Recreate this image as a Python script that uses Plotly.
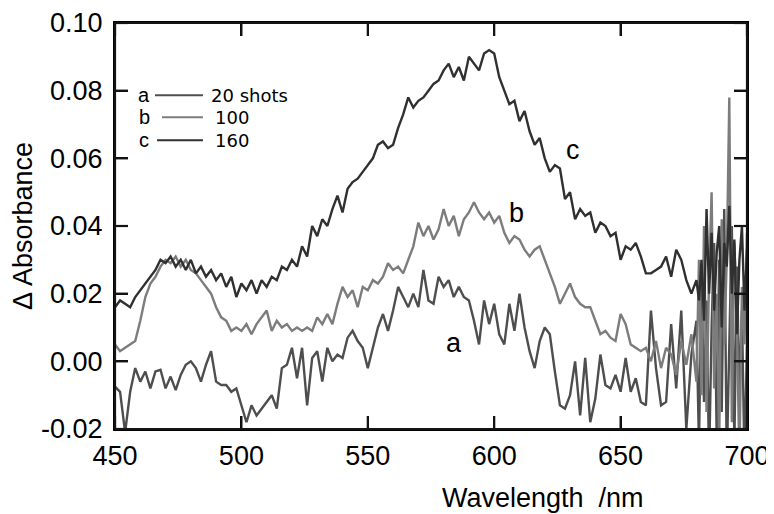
import plotly.graph_objects as go

# Wavelength grid (nm): 2 nm steps up to 678, then 1 nm steps in the noisy tail
wavelength = list(range(450, 680, 2)) + list(range(680, 701))

# Series c (160 shots)
abs_c = [0.016, 0.018, 0.017, 0.016, 0.019, 0.021, 0.023, 0.025, 0.027, 0.030,
         0.029, 0.031, 0.028, 0.030, 0.027, 0.030, 0.026, 0.028, 0.025, 0.027,
         0.024, 0.026, 0.022, 0.025, 0.019, 0.023, 0.021, 0.024, 0.020, 0.024,
         0.022, 0.025, 0.024, 0.028, 0.027, 0.030, 0.028, 0.034, 0.031, 0.040,
         0.037, 0.042, 0.040, 0.045, 0.049, 0.044, 0.051, 0.053, 0.054, 0.056,
         0.058, 0.060, 0.064, 0.065, 0.063, 0.064, 0.069, 0.073, 0.078, 0.075,
         0.077, 0.078, 0.080, 0.082, 0.083, 0.086, 0.088, 0.084, 0.087, 0.083,
         0.090, 0.088, 0.086, 0.091, 0.092, 0.091, 0.084, 0.080, 0.076, 0.077,
         0.071, 0.074, 0.068, 0.064, 0.066, 0.060, 0.056, 0.058, 0.057, 0.048,
         0.050, 0.042, 0.045, 0.043, 0.044, 0.038, 0.041, 0.040, 0.037, 0.038,
         0.030, 0.034, 0.033, 0.035, 0.031, 0.026, 0.026, 0.027, 0.028, 0.031,
         0.025, 0.033, 0.030, 0.024, 0.020,
         0.024, 0.018, 0.030, 0.012, 0.045, 0.020, 0.038, 0.015, 0.032, 0.040,
         0.010, 0.035, 0.028, 0.046, 0.020, 0.036, 0.008, 0.030, 0.040, 0.015,
         0.033]

# Series b (100 shots)
abs_b = [0.005, 0.003, 0.004, 0.005, 0.006, 0.012, 0.019, 0.023, 0.025, 0.028,
         0.030, 0.029, 0.031, 0.028, 0.030, 0.027, 0.026, 0.024, 0.022, 0.020,
         0.016, 0.013, 0.012, 0.009, 0.010, 0.009, 0.011, 0.008, 0.011, 0.013,
         0.015, 0.009, 0.012, 0.010, 0.011, 0.009, 0.010, 0.009, 0.010, 0.009,
         0.013, 0.011, 0.014, 0.011, 0.017, 0.022, 0.019, 0.021, 0.016, 0.022,
         0.021, 0.024, 0.023, 0.025, 0.029, 0.027, 0.028, 0.026, 0.030, 0.034,
         0.041, 0.037, 0.040, 0.036, 0.039, 0.045, 0.040, 0.043, 0.037, 0.042,
         0.044, 0.047, 0.044, 0.042, 0.044, 0.041, 0.043, 0.038, 0.035, 0.037,
         0.036, 0.033, 0.031, 0.033, 0.034, 0.030, 0.026, 0.022, 0.017, 0.020,
         0.023, 0.019, 0.017, 0.016, 0.016, 0.012, 0.008, 0.009, 0.007, 0.006,
         0.014, 0.011, 0.005, 0.004, 0.003, 0.004, 0.000, 0.006, -0.002, 0.004,
         0.002, -0.004, 0.006, -0.001, 0.008,
         -0.006, 0.030, -0.010, 0.040, -0.015, 0.025, 0.050, -0.008, 0.020, -0.025,
         0.042, 0.005, 0.030, 0.078, -0.018, 0.035, 0.012, -0.030, 0.022, 0.005,
         0.038]

# Series a (20 shots)
abs_a = [-0.0075, -0.009, -0.021, -0.009, -0.002, -0.006, -0.003, -0.008, -0.003, -0.0025,
         -0.008, -0.0045, -0.0085, -0.004, -0.001, 0.000, -0.002, -0.006, -0.001, 0.003,
         -0.006, -0.007, -0.007, -0.009, -0.008, -0.013, -0.018, -0.013, -0.016, -0.014,
         -0.012, -0.010, -0.014, -0.002, -0.001, 0.004, -0.005, 0.004, -0.013, 0.001,
         0.003, -0.006, 0.004, 0.000, 0.002, 0.001, 0.007, 0.009, 0.006, 0.004,
         -0.002, 0.004, 0.010, 0.014, 0.009, 0.015, 0.022, 0.019, 0.016, 0.020,
         0.016, 0.027, 0.018, 0.017, 0.025, 0.022, 0.024, 0.019, 0.022, 0.019,
         0.018, 0.012, 0.005, 0.018, 0.011, 0.017, 0.008, 0.005, 0.017, 0.009,
         0.020, 0.010, 0.003, -0.002, 0.006, 0.010, 0.008, -0.003, -0.013, -0.014,
         -0.010, 0.000, -0.016, 0.001, -0.018, -0.011, 0.002, -0.007, -0.008, -0.004,
         -0.009, 0.001, -0.009, -0.005, -0.012, -0.013, 0.015, -0.002, -0.013, -0.012,
         0.011, -0.008, 0.015, -0.020, 0.002,
         0.012, -0.025, 0.025, -0.012, 0.018, -0.030, 0.010, 0.035, -0.022, 0.030,
         -0.015, 0.045, -0.030, 0.010, 0.040, -0.025, 0.028, -0.010, 0.015, -0.030,
         0.005]

series_names = ["20 shots", "100", "160"]
series_letters = ["a", "b", "c"]
series_colors = ["#4e4e4e", "#7c7c7c", "#303030"]

y_ticks = [-0.02, 0.00, 0.02, 0.04, 0.06, 0.08, 0.10]
y_tick_text = ["-0.02", "0.00", "0.02", "0.04", "0.06", "0.08", "0.10"]
x_ticks = [450, 500, 550, 600, 650, 700]
x_range = [450, 700]
y_range = [-0.02, 0.10]

# curve letter anchors (data coords)
label_pos = {"a": (584, 0.0054), "b": (609, 0.0438), "c": (631, 0.0624)}

fig = go.Figure()
for name, ys, col in zip(series_names, [abs_a, abs_b, abs_c], series_colors):
    fig.add_trace(go.Scatter(x=wavelength, y=ys, mode="lines", name=name,
                             line=dict(color=col, width=2.4), showlegend=False))

font_main = "Liberation Sans, Arial, Helvetica, sans-serif"

axis_common = dict(showline=True, linecolor="#000000", linewidth=2, mirror="ticks",
                   ticks="inside", ticklen=13, tickwidth=2, tickcolor="#000000",
                   showgrid=False, zeroline=False,
                   tickfont=dict(family=font_main, size=27, color="black"))

# page body has an 8px margin: figure is 766x506 placed at (8, 8)
W, H = 766, 506
M = dict(l=107, r=27, t=15, b=85)
plot_w = W - M["l"] - M["r"]
plot_h = H - M["t"] - M["b"]

fig.update_layout(
    template="none",
    width=W, height=H,
    margin=M,
    paper_bgcolor="white", plot_bgcolor="white",
    showlegend=False,
    xaxis=dict(range=x_range, tickvals=x_ticks, ticklabelstandoff=2, **axis_common),
    yaxis=dict(range=y_range, tickvals=y_ticks, ticktext=y_tick_text,
               ticklabelstandoff=5,
               title=dict(text="Δ Absorbance", standoff=10,
                          font=dict(family=font_main, size=27, color="black")),
               **axis_common),
)

# frame and inside ticks drawn as paper-referenced line shapes
frame_col = "#141414"
def pline(x0, y0, x1, y1):
    fig.add_shape(type="line", xref="paper", yref="paper", x0=x0, y0=y0, x1=x1, y1=y1,
                  line=dict(color=frame_col, width=2.2))

pline(0, 0, 1, 0)
pline(0, 1, 1, 1)
pline(0, 0, 0, 1)
pline(1, 0, 1, 1)
tick_len = 13
fy = tick_len / plot_h
fx = tick_len / plot_w
for xv in x_ticks:
    px = (xv - x_range[0]) / (x_range[1] - x_range[0])
    pline(px, 0, px, fy)
    pline(px, 1 - fy, px, 1)
for yv in y_ticks:
    py = (yv - y_range[0]) / (y_range[1] - y_range[0])
    pline(0, py, fx, py)
    pline(1 - fx, py, 1, py)

# x-axis title (right-shifted as in the original)
fig.add_annotation(x=0.678, y=-0.17, xref="paper", yref="paper",
                   text="Wavelength  /nm", showarrow=False,
                   xanchor="center", yanchor="middle",
                   font=dict(family=font_main, size=27, color="black"))

# curve letters
for letter, (lx, ly) in label_pos.items():
    fig.add_annotation(x=lx, y=ly, text=letter, showarrow=False,
                       xanchor="center", yanchor="middle",
                       font=dict(family=font_main, size=27, color="black"))

# hand-made legend: letter, key line, label
leg_y = [0.822, 0.768, 0.711]
leg_line_x0 = [0.0633, 0.0744, 0.0665]
leg_text_x = [0.1487, 0.155, 0.155]
for i, letter in enumerate(series_letters):
    fig.add_annotation(x=0.0459, y=leg_y[i], xref="paper", yref="paper",
                       text=letter, showarrow=False, xanchor="center", yanchor="middle",
                       font=dict(family=font_main, size=20, color="black"))
    fig.add_shape(type="line", xref="paper", yref="paper",
                  x0=leg_line_x0[i], x1=0.1392, y0=leg_y[i], y1=leg_y[i],
                  line=dict(color=series_colors[i], width=2))
    fig.add_annotation(x=leg_text_x[i], y=leg_y[i], xref="paper", yref="paper",
                       text=series_names[i], showarrow=False, xanchor="left", yanchor="middle",
                       font=dict(family="DejaVu Sans, sans-serif", size=18, color="black"))

fig.write_html("out.html")
